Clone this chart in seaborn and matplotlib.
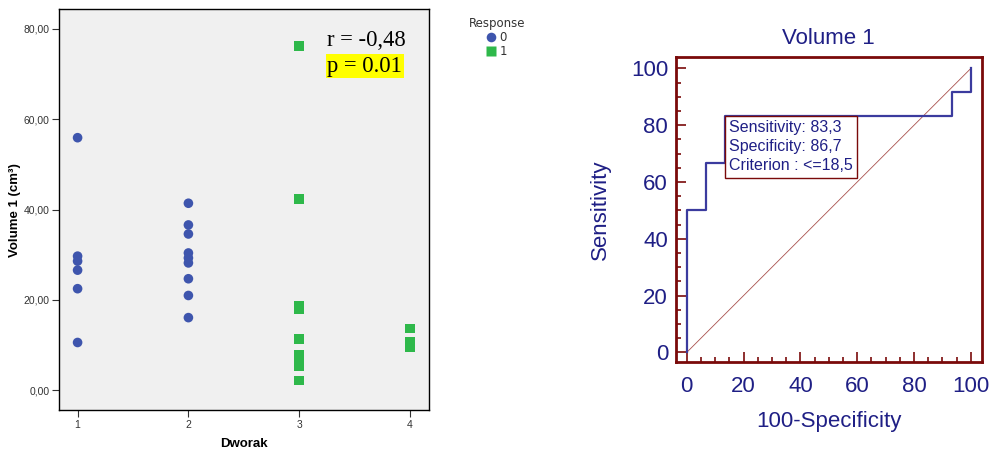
import numpy as np
import pandas as pd
import matplotlib
matplotlib.use('Agg')
import matplotlib.pyplot as plt
from matplotlib.ticker import FuncFormatter, MultipleLocator
import seaborn as sns

# =============================================================================
# Data
# =============================================================================

# left panel: Volume 1 by Dworak grade, coloured by response
dworak_0 = [1, 1, 1, 1, 1, 1, 2, 2, 2, 2, 2, 2, 2, 2, 2]
volume_0 = [55.9, 29.7, 28.6, 26.6, 22.5, 10.6,
            41.4, 36.6, 34.6, 30.4, 29.3, 28.2, 24.7, 21.0, 16.1]
dworak_1 = [3, 3, 3, 3, 3, 3, 3, 3, 3, 4, 4, 4]
volume_1 = [76.2, 42.4, 18.8, 18.0, 11.4, 7.8, 6.4, 5.3, 2.2, 13.7, 10.7, 9.6]

# right panel: ROC curve corners
roc_fpr = [0, 0, 6.67, 6.67, 13.33, 13.33, 93.33, 93.33, 100, 100]
roc_tpr = [0, 50, 50, 66.67, 66.67, 83.33, 83.33, 91.67, 91.67, 100]
diag = [0, 100]

y_ticks_left = [0, 20, 40, 60, 80]
x_ticks_left = [1, 2, 3, 4]
roc_ticks = [0, 20, 40, 60, 80, 100]

scatter_df = pd.DataFrame({
    'Dworak': dworak_0 + dworak_1,
    'Volume': volume_0 + volume_1,
    'Response': ['0'] * len(dworak_0) + ['1'] * len(dworak_1),
})

navy = '#1f1f85'
dark_red = '#7a0a0a'

fig = plt.figure(figsize=(10.04, 4.49), dpi=100)

# =============================================================================
# Left: scatter plot
# =============================================================================
ax1 = fig.add_axes([59.3 / 1004, 1 - 410.3 / 449, 369.7 / 1004, 401 / 449])
ax1.set_facecolor('#f0f0f0')

sns.scatterplot(data=scatter_df, x='Dworak', y='Volume', hue='Response', style='Response',
                palette={'0': '#3e55ad', '1': '#2eb84a'}, markers={'0': 'o', '1': 's'},
                s=48, edgecolor='none', ax=ax1)

ax1.set_xlim(0.835, 4.171)
ax1.set_ylim(-4.4, 84.3)
ax1.set_xticks(x_ticks_left)
ax1.set_yticks(y_ticks_left)
ax1.yaxis.set_major_formatter(FuncFormatter(lambda v, p: f'{v:.2f}'.replace('.', ',')))
ax1.tick_params(labelsize=7.5, labelcolor='#333333', length=5, width=0.8, color='#333333', pad=2)
for lab in ax1.get_xticklabels() + ax1.get_yticklabels():
    lab.set_family('Liberation Sans')
for sp in ax1.spines.values():
    sp.set_color('black')
    sp.set_linewidth(1)

ax1.set_xlabel('Dworak', fontsize=9.5, fontweight='bold', family='Liberation Sans', labelpad=6)
ax1.set_ylabel('Volume 1 (cm³)', fontsize=9.5, fontweight='bold', family='Liberation Sans', labelpad=2)

ax1.text(3.255, 76.2, 'r = -0,48', fontsize=16.3, family='Liberation Serif', va='baseline')
ax1.text(3.255, 70.5, 'p = 0.01', fontsize=16.3, family='Liberation Serif', va='baseline',
         bbox=dict(boxstyle='square,pad=0.08', facecolor='#ffff00', edgecolor='none'))

sns.move_legend(ax1, 'upper center', bbox_to_anchor=(497 / 1004, 1 - 11 / 449),
                bbox_transform=fig.transFigure, frameon=False, title='Response',
                fontsize=8.5, title_fontsize=8.5, handlelength=0.8, handletextpad=0.3,
                labelspacing=0.1, borderpad=0, markerscale=1.0)
leg = ax1.get_legend()
leg.get_title().set_color('#333333')
for t in leg.get_texts():
    t.set_color('#333333')

# =============================================================================
# Right: ROC curve
# =============================================================================
ax2 = fig.add_axes([675.7 / 1004, 1 - 362.3 / 449, 306 / 1004, 305 / 449])

sns.lineplot(x=diag, y=diag, color='#a8504c', linewidth=0.6, ax=ax2)
sns.lineplot(x=roc_fpr, y=roc_tpr, sort=False, estimator=None, color='#3b3b9e',
             linewidth=1.6, ax=ax2)

ax2.set_xlim(-3.9, 103.8)
ax2.set_ylim(-3.5, 103.9)
ax2.set_xticks(roc_ticks)
ax2.set_yticks(roc_ticks)
ax2.xaxis.set_minor_locator(MultipleLocator(5))
ax2.yaxis.set_minor_locator(MultipleLocator(5))
ax2.tick_params(which='major', direction='in', length=7.5, width=1.2, color=dark_red,
                labelsize=16, labelcolor=navy)
ax2.tick_params(which='minor', direction='in', length=3.5, width=1.2, color=dark_red)
ax2.tick_params(axis='x', which='major', pad=10)
ax2.tick_params(axis='y', which='major', pad=5.5)
for lab in ax2.get_xticklabels() + ax2.get_yticklabels():
    lab.set_family('Liberation Sans')
for sp in ax2.spines.values():
    sp.set_color(dark_red)
    sp.set_linewidth(2)

ax2.set_title('Volume 1', fontsize=16, color=navy, family='Liberation Sans', pad=9.7)
ax2.set_xlabel('100-Specificity', fontsize=16, color=navy, family='Liberation Sans', labelpad=10)
ax2.set_ylabel('Sensitivity', fontsize=16, color=navy, family='Liberation Sans', labelpad=14.5)

ax2.annotate('Sensitivity: 83,3\nSpecificity: 86,7\nCriterion : <=18,5',
             xy=(13.33, 83.33), xytext=(3, -3), textcoords='offset points',
             ha='left', va='top', fontsize=11.5, color=navy, fontfamily='Liberation Sans',
             linespacing=1.35,
             bbox=dict(boxstyle='square,pad=0.27', facecolor='white', edgecolor=dark_red, linewidth=1))

plt.savefig('out.png', dpi=100)
